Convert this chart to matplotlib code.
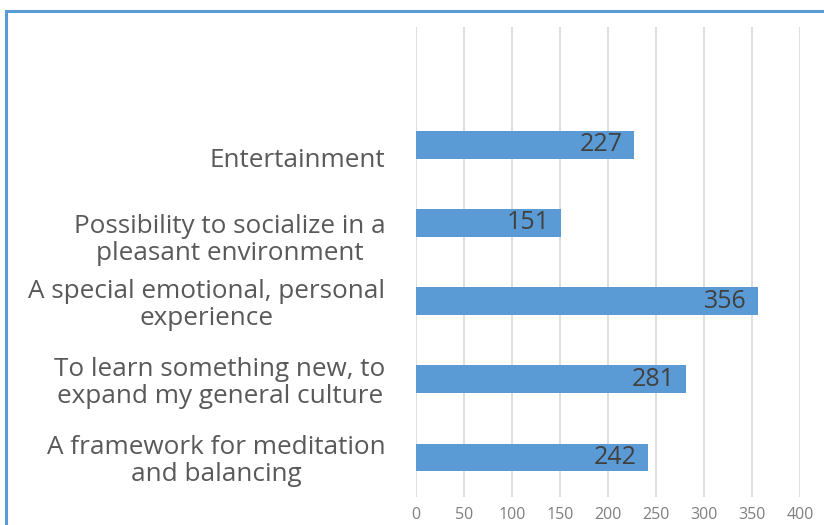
import matplotlib
matplotlib.use("Agg")
import matplotlib.pyplot as plt
import matplotlib.transforms as mtransforms
from matplotlib.lines import Line2D

categories = [
    "A framework for meditation\nand balancing",
    "To learn something new, to\nexpand my general culture",
    "A special emotional, personal\nexperience",
    "Possibility to socialize in a\npleasant environment",
    "Entertainment",
]
values = [242, 281, 356, 151, 227]
xticks = [0, 50, 100, 150, 200, 250, 300, 350, 400]

plt.rcParams['font.family'] = ['Open Sans', 'DejaVu Sans']

W, H = 824, 525
fig = plt.figure(figsize=(W/100, H/100), dpi=100)
ax = fig.add_axes([416/W, 1-497/H, (800-416)/W, (497-27)/H])

ypos = list(range(len(categories)))
bars = ax.barh(ypos, values, height=0.35, color="#5B9BD5", zorder=3)
ax.set_xlim(0, 400)
ax.set_ylim(-0.51, 5.51)
ax.set_xticks(xticks)
ax.set_xticklabels([str(t) for t in xticks], fontsize=11.5, color="#7F7F7F")
ax.set_yticks(ypos)
labels = ax.set_yticklabels(categories, fontsize=18.8, color="#595959",
                            multialignment="center", linespacing=1.12)
ax.tick_params(axis="y", length=0, pad=22)
ax.tick_params(axis="x", length=0, pad=7)
ax.grid(axis="x", color="#D9D9D9", linewidth=1.2, zorder=0)
for s in ax.spines.values():
    s.set_visible(False)

# the top two labels sit slightly lower in the reference
for i in (3, 4):
    lab = ax.get_yticklabels()[i]
    lab.set_transform(lab.get_transform() +
                      mtransforms.ScaledTranslation(0, -13/100, fig.dpi_scale_trans))

for y, v in zip(ypos, values):
    ax.annotate(str(v), xy=(v, y), xytext=(-8, 0), textcoords="offset points",
                ha="right", va="center", fontsize=18, color="#404040", zorder=4)

# blue frame (left and top)
fig.add_artist(Line2D([6/W, 6/W], [0, 1-11/H], transform=fig.transFigure,
                      color="#5B9BD5", linewidth=2.2))
fig.add_artist(Line2D([6/W, 1], [1-11/H, 1-11/H], transform=fig.transFigure,
                      color="#5B9BD5", linewidth=2.2))

fig.savefig("out.png", dpi=100)
